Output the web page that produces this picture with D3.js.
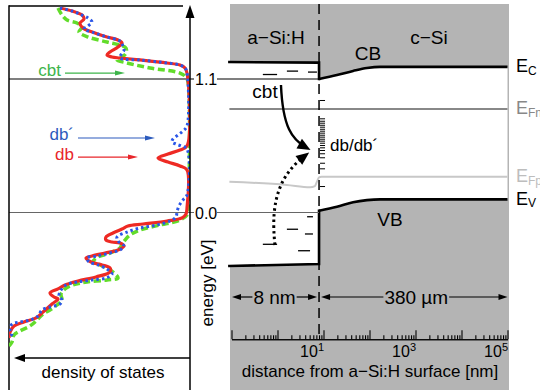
<!DOCTYPE html>
<html>
<head>
<meta charset="utf-8">
<script src="https://cdn.jsdelivr.net/npm/d3@7"></script>
<style>
  body { margin: 0; background: #fff; }
  svg { display: block; font-family: "Liberation Sans", Arial, Helvetica, sans-serif; }
</style>
</head>
<body>
<div id="chart"></div>
<script>
// density of states, [energy eV, DOS arb. units (grows to the left)]
const dbCurve = [[1.685,128],[1.660,116],[1.627,106],[1.594,104],[1.561,108],[1.520,105],[1.479,93],[1.446,81],[1.421,70],[1.397,66],[1.364,70],[1.323,78],[1.298,81],[1.281,76],[1.273,68],[1.257,48],[1.232,21],[1.215,8],[1.191,3],[1.149,1],[0.549,1],[0.515,8],[0.482,20],[0.449,30],[0.416,20],[0.383,8],[0.350,1],[0.037,1],[-0.012,2],[-0.045,6],[-0.070,21],[-0.095,45],[-0.111,60],[-0.136,66],[-0.169,75],[-0.202,82],[-0.227,82],[-0.243,76],[-0.251,68],[-0.276,64],[-0.309,70],[-0.334,83],[-0.358,96],[-0.375,102],[-0.408,97],[-0.432,86],[-0.457,78],[-0.490,78],[-0.531,92],[-0.564,110],[-0.597,123],[-0.630,130],[-0.663,138],[-0.696,134],[-0.713,130],[-0.754,136],[-0.820,145],[-0.869,152],[-0.902,164],[-0.935,174],[-0.985,178],[-1.034,179]];
const dbPrimeCurve = [[1.685,128],[1.660,116],[1.627,106],[1.603,100],[1.570,96],[1.537,100],[1.512,104],[1.479,93],[1.446,81],[1.421,70],[1.405,67],[1.372,65],[1.339,64],[1.314,66],[1.273,68],[1.257,48],[1.232,21],[1.215,8],[1.191,3],[1.149,1],[0.713,1],[0.672,5],[0.639,10],[0.606,15],[0.581,16],[0.564,12],[0.548,7],[0.523,1],[0.144,1],[0.103,5],[0.054,9],[0.004,11],[-0.037,12],[-0.070,18],[-0.103,31],[-0.128,48],[-0.161,61],[-0.202,71],[-0.235,70],[-0.276,64],[-0.309,68],[-0.334,78],[-0.358,91],[-0.375,101],[-0.408,99],[-0.432,90],[-0.466,81],[-0.507,76],[-0.540,82],[-0.556,96],[-0.573,111],[-0.597,122],[-0.639,127],[-0.688,129],[-0.721,126],[-0.754,128],[-0.779,138],[-0.803,146],[-0.853,150],[-0.886,158],[-0.902,168],[-0.919,176],[-0.960,178],[-1.001,176],[-1.026,180]];
const cbtCurve = [[1.685,130],[1.627,126],[1.586,121],[1.561,111],[1.529,106],[1.487,109],[1.446,100],[1.405,81],[1.380,68],[1.355,62],[1.314,62],[1.281,66],[1.257,71],[1.232,61],[1.191,38],[1.149,8],[1.116,2],[1.075,0],[0.021,0],[-0.021,1],[-0.062,8],[-0.103,28],[-0.144,48],[-0.185,58],[-0.227,63],[-0.260,66],[-0.292,68],[-0.334,78],[-0.367,90],[-0.408,95],[-0.432,88],[-0.457,81],[-0.490,75],[-0.540,70],[-0.556,81],[-0.573,101],[-0.597,115],[-0.630,123],[-0.672,127],[-0.721,126],[-0.762,131],[-0.803,138],[-0.836,145],[-0.886,151],[-0.935,158],[-0.976,168],[-1.009,174],[-1.067,176],[-1.100,179]];

// legend labels on the left panel
const legendNames = ["cbt", "db\u00b4", "db"];
const legendColors = ["#3db44a", "#2c5bbd", "#e8262b"];
const legendEnergy = [1.149, 0.614, 0.457];
const legendFrom = [123, 110, 110];
const legendTo = [63, 33, 50];

// band diagram, distance from surface in nm
const interfaceNm = 8;
const aSiDist = [0.09, 8];
const aSiCB = [1.24, 1.235];
const aSiVB = [-0.441, -0.424];
const cSiDist = [8, 19.6, 44, 88, 170, 1e5];
const cSiCB = [1.1, 1.133, 1.166, 1.19, 1.2, 1.2];
const cSiVB = [0.015, 0.048, 0.085, 0.102, 0.108, 0.108];
const efnLevel = 0.853;
const efpDist = [0.09, 1.6, 5.1, 6.5, 7.2, 8, 9, 1e5];
const efpE = [0.254, 0.227, 0.208, 0.218, 0.254, 0.29, 0.295, 0.295];

// localized states (dashes): [from nm, to nm, eV]
const cbTail = [[0.48, 0.98, 1.137], [1.6, 2.8, 1.165], [4.6, 7.2, 1.157]];
const vbTail = [[4.4, 5.9, -0.035], [1.6, 2.8, -0.138], [3.95, 5.9, -0.177], [0.48, 0.98, -0.262], [2.8, 5.1, -0.315]];
const dbRange = [8.4, 10.8];
const dbLevels = [0.927, 0.776, 0.756, 0.740, 0.723, 0.707, 0.690, 0.674, 0.658, 0.641, 0.625, 0.608, 0.592, 0.575, 0.556, 0.537, 0.515, 0.488, 0.455, 0.410, 0.364, 0.218];

const levels = [["C", 1.2, "#000"], ["Fn", efnLevel, "#888"], ["Fp", 0.295, "#bdbdbd"], ["V", 0.108, "#000"]];
const decadeLabels = [1, 3, 5];

const W = 540, H = 390;
const svg = d3.select("#chart").append("svg").attr("width", W).attr("height", H);

const yE = d3.scaleLinear().domain([0, 1.1]).range([212.5, 79]);
const xDos = d3.scaleLinear().domain([0, 180]).range([188, 8]);
const xDist = d3.scaleLog().domain([0.1, 1e5]).range([231.5, 507.5]);
const xJ = xDist(interfaceNm);

function head(g, x, y, ang, len, wid, color) {
  const c = Math.cos(ang), s = Math.sin(ang);
  const bx = x - c * len, by = y - s * len;
  const pts = [[x, y], [bx - s * wid / 2, by + c * wid / 2], [bx + s * wid / 2, by - c * wid / 2]];
  g.append("path").attr("d", "M" + pts.join("L") + "Z").attr("fill", color);
}

// ---------- right panel: band diagram ----------
const band = svg.append("g");
band.append("rect").attr("x", 230).attr("y", 4).attr("width", 279).attr("height", H - 4).attr("fill", "#b4b4b4");

const aSi = aSiDist.map((d, i) => ({ d, cb: aSiCB[i], vb: aSiVB[i] }));
const cSi = cSiDist.map((d, i) => ({ d, cb: cSiCB[i], vb: cSiVB[i] }));
const gap = d3.area().x(p => xDist(p.d)).y0(p => yE(p.vb)).y1(p => yE(p.cb));
band.append("path").attr("d", gap(aSi)).attr("fill", "#fff");
band.append("path").attr("d", gap.curve(d3.curveMonotoneX)(cSi)).attr("fill", "#fff");

// Fermi levels
band.append("line").attr("x1", xDist(0.09)).attr("x2", xDist(1e5))
  .attr("y1", yE(efnLevel)).attr("y2", yE(efnLevel)).attr("stroke", "#888").attr("stroke-width", 2);
band.append("path")
  .attr("d", d3.line().x(d => xDist(d)).y((d, i) => yE(efpE[i])).curve(d3.curveMonotoneX)(efpDist))
  .attr("fill", "none").attr("stroke", "#c8c8c8").attr("stroke-width", 2);

// reference lines 1.1 and 0.0 (crossing both panels)
const refs = svg.append("g");
[[1.1, "#000"], [0, "#666"]].forEach(([e, col]) => {
  refs.append("line").attr("x1", 9).attr("x2", 194).attr("y1", yE(e)).attr("y2", yE(e)).attr("stroke", col).attr("stroke-width", 1.2);
  refs.append("line").attr("x1", 217).attr("x2", xJ).attr("y1", yE(e)).attr("y2", yE(e)).attr("stroke", col).attr("stroke-width", 1.2);
});

// band edges
const lin = d3.line().x(p => xDist(p[0])).y(p => yE(p[1]));
["cb", "vb"].forEach(k => {
  const pts = aSi.map(p => [p.d, p[k]]).concat([[cSi[0].d, cSi[0][k]]]);
  band.append("path").attr("d", lin(pts)).attr("fill", "none").attr("stroke", "#000")
    .attr("stroke-width", 2.6).attr("stroke-linecap", "square");
  band.append("path").attr("d", d3.line().x(p => xDist(p.d)).y(p => yE(p[k])).curve(d3.curveMonotoneX)(cSi))
    .attr("fill", "none").attr("stroke", "#000").attr("stroke-width", 2.6);
});

// interface
band.append("line").attr("x1", xJ).attr("x2", xJ).attr("y1", 4).attr("y2", 339)
  .attr("stroke", "#000").attr("stroke-width", 1.5).attr("stroke-dasharray", "10,6");

// tail and dangling bond states
cbTail.concat(vbTail).forEach(([a, b, e]) => {
  band.append("line").attr("x1", xDist(a)).attr("x2", xDist(b)).attr("y1", yE(e)).attr("y2", yE(e))
    .attr("stroke", "#000").attr("stroke-width", 1.3);
});
band.selectAll(".db").data(dbLevels).join("line").attr("class", "db")
  .attr("x1", xDist(dbRange[0])).attr("x2", xDist(dbRange[1]))
  .attr("y1", d => yE(d) + 0.5).attr("y2", d => yE(d) + 0.5)
  .attr("stroke", "#000").attr("stroke-width", 1);

// recombination arrows
const cbtArrow = [[1.19, 1.051], [1.3, 0.70], [2.1, 0.60], [4.2, 0.535]];
const vbArrow = [[0.88, -0.268], [0.69, 0.103], [1.13, 0.309], [4.0, 0.47]];
[[cbtArrow, null], [vbArrow, "2.5,3.2"]].forEach(([a, dash]) => {
  const p = a.map(q => [xDist(q[0]), yE(q[1])]);
  const path = band.append("path")
    .attr("d", `M${p[0]}C${p[1]} ${p[2]} ${p[3]}`)
    .attr("fill", "none").attr("stroke", "#000").attr("stroke-width", dash ? 3 : 2.4);
  if (dash) path.attr("stroke-dasharray", dash);
  const ang = Math.atan2(p[3][1] - p[2][1], p[3][0] - p[2][0]);
  head(band, p[3][0] + 5 * Math.cos(ang), p[3][1] + 5 * Math.sin(ang), ang, 13, 11, "#000");
});

// labels in band diagram
const bigFont = 19;
[["a\u2212Si:H", 276, 44], ["c\u2212Si", 429, 44], ["CB", 368, 60], ["VB", 390, 226], ["cbt", 265, 98]].forEach(([t, x, y]) => {
  band.append("text").attr("x", x).attr("y", y).attr("text-anchor", "middle").attr("font-size", bigFont).text(t);
});
band.append("text").attr("x", 330).attr("y", 151).attr("font-size", 17).text("db/db\u00b4");

// distance arrows
function spanArrow(x0, x1, y, label) {
  const t = band.append("text").attr("x", (x0 + x1) / 2 + (label === "8 nm" ? 0 : 2)).attr("y", y + 6.5)
    .attr("text-anchor", "middle").attr("font-size", bigFont).text(label);
  const bb = t.node().getBBox();
  band.append("line").attr("x1", x0 + 6).attr("x2", bb.x - 1).attr("y1", y).attr("y2", y).attr("stroke", "#000").attr("stroke-width", 1.2);
  band.append("line").attr("x1", bb.x + bb.width + 1).attr("x2", x1 - 6).attr("y1", y).attr("y2", y).attr("stroke", "#000").attr("stroke-width", 1.2);
  head(band, x0, y, Math.PI, 9, 6, "#000");
  head(band, x1, y, 0, 9, 6, "#000");
}
spanArrow(xDist(0.1) + 0.5, xJ - 2, 297, "8 nm");
spanArrow(xJ + 2, xDist(1e5), 297, "380 \u00b5m");

// log distance axis, ticks pointing up
const axisY = 339.3;
const majors = d3.range(-1, 6).map(e => Math.pow(10, e));
const minors = [];
d3.range(-1, 5).forEach(e => d3.range(2, 10).forEach(m => minors.push(m * Math.pow(10, e))));
const axG = band.append("g").attr("transform", `translate(0,${axisY})`);
axG.call(d3.axisTop(xDist).tickValues(majors).tickSize(9).tickSizeOuter(0).tickFormat(""));
axG.append("g").call(d3.axisTop(xDist).tickValues(minors).tickSize(4).tickSizeOuter(0).tickFormat(""));
axG.selectAll("path,line").attr("stroke", "#000").attr("stroke-width", 1.1);
decadeLabels.forEach(p => {
  const t = band.append("text").attr("x", xDist(Math.pow(10, p)) + 0.5).attr("y", 356.5)
    .attr("text-anchor", "end").attr("font-size", 16);
  t.append("tspan").text("10");
  t.append("tspan").attr("font-size", 11).attr("dy", -6).text(p);
});
band.append("text").attr("x", 370).attr("y", 377).attr("text-anchor", "middle").attr("font-size", 17)
  .text("distance from a\u2212Si:H surface [nm]");

// level names at right edge
levels.forEach(([sub, e, col]) => {
  const t = band.append("text").attr("x", 516).attr("y", yE(e) + 5.5).attr("fill", col).attr("font-size", 18);
  t.append("tspan").text("E");
  t.append("tspan").attr("font-size", 12).attr("dy", 2.5).text(sub);
});

// ---------- left panel: density of states ----------
const dos = svg.append("g");
dos.append("defs").append("clipPath").attr("id", "dosClip")
  .append("rect").attr("x", 9).attr("y", 6).attr("width", 181).attr("height", 352);

dos.append("line").attr("x1", 9).attr("x2", 183).attr("y1", 6).attr("y2", 6).attr("stroke", "#000").attr("stroke-width", 1.5);
dos.append("line").attr("x1", 9).attr("x2", 9).attr("y1", 5.25).attr("y2", H).attr("stroke", "#000").attr("stroke-width", 1.5);

const curveLine = d3.line().x(d => xDos(d[1])).y(d => yE(d[0])).curve(d3.curveCatmullRom.alpha(0.5));
const curves = dos.append("g").attr("clip-path", "url(#dosClip)");
curves.append("path").attr("d", curveLine(cbtCurve)).attr("fill", "none")
  .attr("stroke", "#62dc2a").attr("stroke-width", 3.5).attr("stroke-dasharray", "7,3.5");
curves.append("path").attr("d", curveLine(dbCurve)).attr("fill", "none")
  .attr("stroke", "#ee2a24").attr("stroke-width", 3.2);
curves.append("path").attr("d", curveLine(dbPrimeCurve)).attr("fill", "none")
  .attr("stroke", "#2a56e8").attr("stroke-width", 3).attr("stroke-dasharray", "2.5,3");

// labels with arrows
legendNames.forEach((name, i) => {
  const y = yE(legendEnergy[i]);
  const x0 = xDos(legendFrom[i]), x1 = xDos(legendTo[i]);
  dos.append("text").attr("x", x0 - 4).attr("y", y + 2.5).attr("text-anchor", "end")
    .attr("font-size", 17).attr("fill", legendColors[i]).text(name);
  dos.append("line").attr("x1", x0).attr("x2", x1 - 8).attr("y1", y).attr("y2", y)
    .attr("stroke", legendColors[i]).attr("stroke-width", 1.2);
  head(dos, x1, y, 0, 10, 5, legendColors[i]);
});

// energy axis (arrow up) and DOS arrow (pointing left)
dos.append("line").attr("x1", 190).attr("x2", 190).attr("y1", H).attr("y2", 15).attr("stroke", "#000").attr("stroke-width", 1.5);
head(dos, 190, 5, -Math.PI / 2, 13, 9, "#000");
dos.append("line").attr("x1", 190).attr("x2", 22).attr("y1", 358).attr("y2", 358).attr("stroke", "#000").attr("stroke-width", 1.5);
head(dos, 14, 358, Math.PI, 11, 8, "#000");
dos.append("text").attr("x", 103).attr("y", 378).attr("text-anchor", "middle").attr("font-size", 17).text("density of states");

// energy tick labels
[1.1, 0].forEach(e => {
  dos.append("text").attr("x", 195).attr("y", yE(e) + 6).attr("font-size", 16).text(d3.format(".1f")(e));
});
dos.append("text").attr("transform", "translate(213,283) rotate(-90)").attr("text-anchor", "middle")
  .attr("font-size", 17).text("energy [eV]");
</script>
</body>
</html>
